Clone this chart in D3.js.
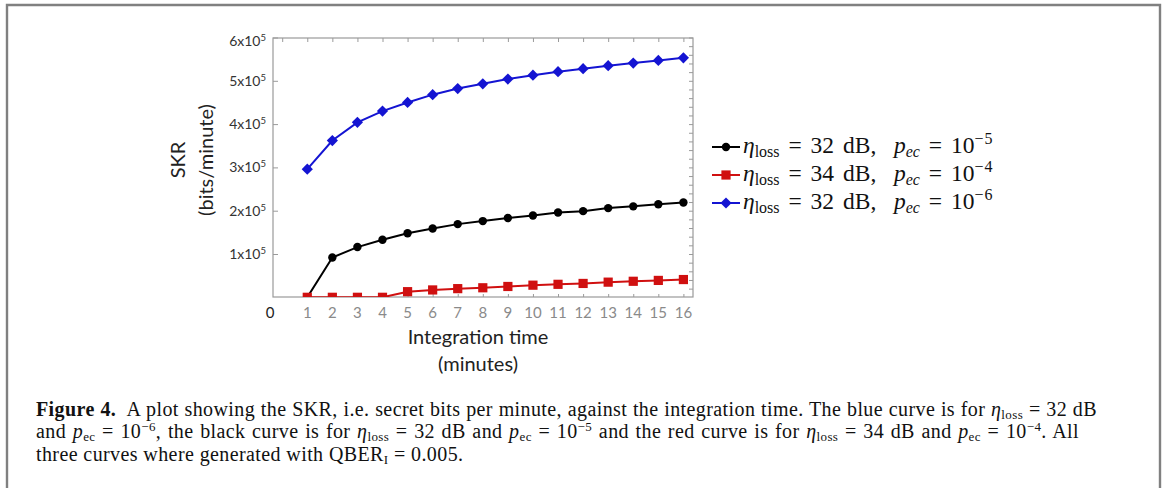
<!DOCTYPE html>
<html>
<head>
<meta charset="utf-8">
<script src="https://cdn.jsdelivr.net/npm/d3@7/dist/d3.min.js"></script>
<style>
  html, body { margin: 0; padding: 0; background: #fff; }
  svg { display: block; }
  text { white-space: pre; }
</style>
</head>
<body>
<svg id="fig" width="1163" height="488"></svg>
<script>
// Integration time (minutes) and secret key rate (bits/minute) per configuration
const minutes = [1, 2, 3, 4, 5, 6, 7, 8, 9, 10, 11, 12, 13, 14, 15, 16];
const skrLoss32Pec5 = [0, 92000, 116000, 133000, 148000, 159000, 169000, 176000, 183000, 189000, 196000, 199000, 206000, 210000, 215000, 219000];
const skrLoss34Pec4 = [0, 0, 0, 0, 13000, 17000, 20000, 22000, 25000, 28000, 30000, 32000, 35000, 37000, 39000, 41000];
const skrLoss32Pec6 = [296000, 362000, 404000, 430000, 450000, 468000, 482000, 493000, 504000, 513000, 521000, 528000, 535000, 541000, 547000, 553000];
const yTickValues = [100000, 200000, 300000, 400000, 500000, 600000];
const yTickMantissa = ["1", "2", "3", "4", "5", "6"];

const seriesList = [
  { name: "black", values: skrLoss32Pec5, color: "#000000", marker: "circle", loss: "32", pec: "−5" },
  { name: "red",   values: skrLoss34Pec4, color: "#d01010", marker: "square", loss: "34", pec: "−4" },
  { name: "blue",  values: skrLoss32Pec6, color: "#1414d2", marker: "diamond", loss: "32", pec: "−6" }
];

const svg = d3.select("#fig");

// outer figure border (open at the bottom)
svg.append("path")
  .attr("d", "M7,488 V5 H1160 V488")
  .attr("fill", "none").attr("stroke", "#808080").attr("stroke-width", 2.4);

// plot frame geometry
const plot = { left: 273, right: 693, top: 38, bottom: 297 };
const x = d3.scaleLinear().domain([0, 16]).range([282.2, 683.4]);
const y = d3.scaleLinear().domain([0, 600000]).range([297.3, 37.5]);

const sans = "Lato, 'Open Sans', sans-serif";
const serif = "'Liberation Serif', 'Times New Roman', serif";

svg.append("defs").append("clipPath").attr("id", "plotClip")
  .append("rect")
  .attr("x", plot.left).attr("y", plot.top)
  .attr("width", plot.right - plot.left).attr("height", plot.bottom - plot.top);

const frameColor = "#9a9a9a";
const g = svg.append("g");

// ticks on each side of the frame (all pointing inward)
const bottomAxis = d3.axisBottom(x).tickValues(minutes).tickSize(-3).tickFormat("");
g.append("g").attr("transform", `translate(0,${plot.bottom})`).call(bottomAxis);
const topAxis = d3.axisTop(x).tickValues(d3.range(0, 17)).tickSize(-4).tickFormat("");
g.append("g").attr("transform", `translate(0,${plot.top})`).call(topAxis);
const leftAxis = d3.axisLeft(y).tickValues(yTickValues).tickSize(-5).tickFormat("");
g.append("g").attr("transform", `translate(${plot.left},0)`).call(leftAxis);
const rightAxis = d3.axisRight(y).tickValues(d3.range(20000, 600001, 20000)).tickSize(-4).tickFormat("");
g.append("g").attr("transform", `translate(${plot.right},0)`).call(rightAxis);
g.selectAll(".domain").remove();
g.selectAll(".tick line").attr("stroke", frameColor).attr("stroke-width", 1);

// frame
g.append("rect")
  .attr("x", plot.left).attr("y", plot.top)
  .attr("width", plot.right - plot.left).attr("height", plot.bottom - plot.top)
  .attr("fill", "none").attr("stroke", frameColor).attr("stroke-width", 1.2);

// x tick labels
g.append("g").selectAll("text").data(minutes).join("text")
  .attr("x", d => x(d)).attr("y", 318)
  .attr("text-anchor", "middle")
  .attr("font-family", sans).attr("font-size", 15).attr("fill", "#8a8a8a")
  .text(d => d);
// origin label
g.append("text").attr("x", 270).attr("y", 318).attr("text-anchor", "middle")
  .attr("font-family", sans).attr("font-size", 15).attr("fill", "#222").text("0");

// y tick labels: "Nx10^5"
const yLab = g.append("g").selectAll("text").data(yTickValues).join("text")
  .attr("x", 266).attr("y", d => Math.max(y(d), 41) + 5)
  .attr("text-anchor", "end")
  .attr("font-family", sans).attr("font-size", 14).attr("fill", "#333");
yLab.append("tspan").text((d, i) => yTickMantissa[i] + "x10");
yLab.append("tspan").attr("dy", -5).attr("font-size", 9.5).text("5");

// axis titles
const titleSize = 20;
g.append("text").attr("x", 478).attr("y", 344).attr("text-anchor", "middle")
  .attr("font-family", sans).attr("font-size", titleSize).attr("fill", "#222").text("Integration time");
g.append("text").attr("x", 478).attr("y", 371).attr("text-anchor", "middle")
  .attr("font-family", sans).attr("font-size", titleSize).attr("fill", "#222").text("(minutes)");
g.append("text").attr("transform", "translate(185,160) rotate(-90)").attr("text-anchor", "middle")
  .attr("font-family", sans).attr("font-size", titleSize).attr("fill", "#222").text("SKR");
g.append("text").attr("transform", "translate(213,160) rotate(-90)").attr("text-anchor", "middle")
  .attr("font-family", sans).attr("font-size", titleSize).attr("fill", "#222").text("(bits/minute)");

// marker shapes
function drawMarker(sel, type, color, cx, cy) {
  if (type === "circle") {
    sel.append("circle").attr("cx", cx).attr("cy", cy).attr("r", 4.2).attr("fill", color);
  } else if (type === "square") {
    sel.append("rect").attr("x", cx - 4.6).attr("y", cy - 4.6).attr("width", 9.2).attr("height", 9.2).attr("fill", color);
  } else {
    const s = 5.6;
    sel.append("path").attr("d", `M${cx},${cy - s} L${cx + s},${cy} L${cx},${cy + s} L${cx - s},${cy} Z`).attr("fill", color);
  }
}

const line = d3.line().x((d, i) => x(minutes[i])).y(d => y(d));
const curves = g.append("g").attr("clip-path", "url(#plotClip)");
seriesList.forEach(s => {
  curves.append("path").datum(s.values).attr("d", line)
    .attr("fill", "none").attr("stroke", s.color).attr("stroke-width", 2);
  const mg = curves.append("g");
  s.values.forEach((v, i) => drawMarker(mg, s.marker, s.color, x(minutes[i]), y(v)));
});

// legend
const legendRows = [147, 175, 203];
seriesList.forEach((s, k) => {
  const ly = legendRows[k];
  const lg = svg.append("g");
  lg.append("line").attr("x1", 712).attr("x2", 740).attr("y1", ly).attr("y2", ly)
    .attr("stroke", s.color).attr("stroke-width", 2);
  drawMarker(lg, s.marker, s.color, 726, ly);
  const t = lg.append("text").attr("x", 743).attr("y", ly + 6)
    .attr("font-family", serif).attr("font-size", 23.5).attr("fill", "#111")
    .attr("word-spacing", 3);
  t.append("tspan").attr("font-style", "italic").text("η");
  t.append("tspan").attr("font-size", 16).attr("dy", 4).text("loss");
  t.append("tspan").attr("dy", -4).text(` = ${s.loss} dB,  `);
  t.append("tspan").attr("font-style", "italic").text("p");
  t.append("tspan").attr("font-style", "italic").attr("font-size", 16).attr("dy", 4).text("ec");
  t.append("tspan").attr("dy", -4).text(" = 10");
  t.append("tspan").attr("font-size", 16).attr("dy", -9).attr("letter-spacing", 1).text(s.pec);
});

// caption (first two lines justified to the text block width)
const captionLines = [
  [["Figure 4.", "b"], ["  A plot showing the SKR, i.e. secret bits per minute, against the integration time. The blue curve is for "], ["η", "i"], ["loss", "sub"], [" = 32 dB"]],
  [["and "], ["p", "i"], ["ec", "sub"], [" = 10"], ["−6", "sup"], [", the black curve is for "], ["η", "i"], ["loss", "sub"], [" = 32 dB and "], ["p", "i"], ["ec", "sub"], [" = 10"], ["−5", "sup"], [" and the red curve is for "], ["η", "i"], ["loss", "sub"], [" = 34 dB and "], ["p", "i"], ["ec", "sub"], [" = 10"], ["−4", "sup"], [". All"]],
  [["three curves where generated with QBER"], ["I", "sub"], [" = 0.005."]]
];
const captionY = [416, 438, 461];
const captionWidth = [1061, 1043, null];
captionLines.forEach((segs, li) => {
  const t = svg.append("text").attr("x", 36).attr("y", captionY[li])
    .attr("font-family", serif).attr("font-size", 20).attr("fill", "#111")
    .attr("letter-spacing", 0.4);
  let shift = 0;
  segs.forEach(([txt, st]) => {
    const ts = t.append("tspan").text(txt);
    let target = 0;
    if (st === "b") ts.attr("font-weight", "bold");
    if (st === "i") ts.attr("font-style", "italic");
    if (st === "sub") { ts.attr("font-size", 13); target = 3; }
    if (st === "sup") { ts.attr("font-size", 13); target = -7; }
    if (target !== shift) { ts.attr("dy", target - shift); shift = target; }
  });
  if (captionWidth[li]) {
    const len = t.node().getComputedTextLength();
    const spaces = segs.reduce((n, [txt]) => n + (txt.match(/ /g) || []).length, 0);
    t.attr("word-spacing", Math.max(0, (captionWidth[li] - len) / spaces));
  }
});
</script>
</body>
</html>
